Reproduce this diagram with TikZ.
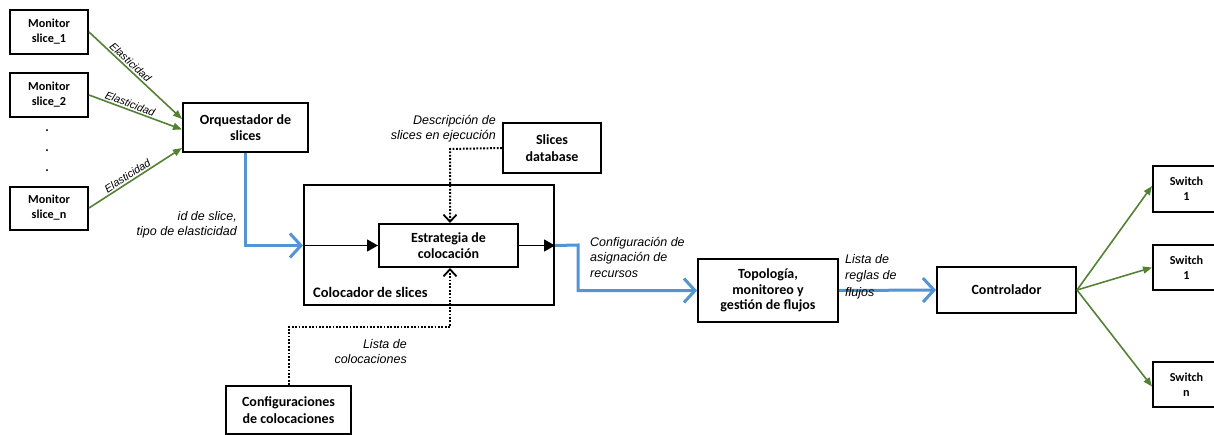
\documentclass[tikz,border=0pt]{standalone}
\usepackage{fontspec}
\setmainfont{Carlito}
\newfontfamily\labelfont{Liberation Sans}
\usetikzlibrary{arrows.meta}
\definecolor{flowblue}{RGB}{83,148,212}
\definecolor{linkgreen}{RGB}{84,130,53}
\tikzset{
  box/.style={draw=black, line width=2pt, align=center, font=\bfseries\fontsize{14}{16.5}\selectfont, inner sep=0pt},
  smallbox/.style={box, font=\bfseries\fontsize{12.2}{15}\selectfont},
  lbl/.style={font=\labelfont\itshape\fontsize{12.5}{15}\selectfont, inner sep=0pt},
  elab/.style={font=\labelfont\itshape\fontsize{10.8}{12}\selectfont, inner sep=1.5pt},
  greenarrow/.style={draw=linkgreen, line width=1.6pt, -{Triangle[length=9pt,width=7pt]}},
  bluearrow/.style={draw=flowblue, line width=3pt, -{Straight Barb[length=11pt,width=24pt,line width=3pt]}},
  blackarrow/.style={draw=black, line width=1.2pt, -{Triangle[length=11pt,width=12pt]}},
  dotarrow/.style={draw=black, line width=2pt, dash pattern=on 1.8pt off 1.6pt, -{Straight Barb[length=7pt,width=13pt,line width=1.8pt]}},
}
\begin{document}
\begin{tikzpicture}[x=1pt, y=-1pt]
\useasboundingbox (0,0) rectangle (1214,434);

% slice monitors
\node[smallbox, minimum width=78pt, minimum height=44pt] (m1) at (49,32) {Monitor\\slice\_1};
\node[smallbox, minimum width=78pt, minimum height=44pt] (m2) at (49,95) {Monitor\\slice\_2};
\node[smallbox, minimum width=78pt, minimum height=43pt] (mn) at (49,208) {Monitor\\slice\_n};
\node[font=\bfseries\fontsize{13}{14}\selectfont] (d1) at (47,131) {.};
\node[font=\bfseries\fontsize{13}{14}\selectfont] (d2) at (47,151) {.};
\node[font=\bfseries\fontsize{13}{14}\selectfont] (d3) at (47,171) {.};

% orchestrator
\node[box, minimum width=125pt, minimum height=49pt] (orq) at (245.5,127.5) {Orquestador de\\slices};

% placement block
\node[draw=black, line width=2pt, minimum width=250pt, minimum height=120pt, inner sep=0pt] (col) at (429,245) {};
\node[font=\bfseries\fontsize{14.5}{16}\selectfont, inner sep=0pt, anchor=west] (coltxt) at (313,292) {Colocador de slices};
\node[box, minimum width=139pt, minimum height=43pt] (est) at (448.5,245.5) {Estrategia de\\colocación};
\node[box, minimum width=98pt, minimum height=50pt] (db) at (552,148) {Slices\\database};
\node[box, minimum width=125pt, minimum height=48pt] (cfg) at (288.5,410) {Configuraciones\\de colocaciones};

% network side
\node[box, minimum width=140pt, minimum height=63pt, font=\bfseries\fontsize{14}{15.5}\selectfont] (top) at (768,290.5) {Topología,\\monitoreo y\\gestión de flujos};
\node[box, minimum width=139pt, minimum height=46pt] (ctl) at (1006.5,290) {Controlador};
\node[smallbox, minimum width=67pt, minimum height=46pt] (s1) at (1186.5,189) {Switch\\1};
\node[smallbox, minimum width=67pt, minimum height=45pt] (s2) at (1186.5,267.5) {Switch\\1};
\node[smallbox, minimum width=67pt, minimum height=45pt] (sn) at (1186.5,384.5) {Switch\\n};

% elasticity reports
\draw[greenarrow] (m1.east) -- node[elab, sloped, above, pos=0.4] {Elasticidad} ([yshift=-17pt]orq.north west);
\draw[greenarrow] (m2.east) -- node[elab, sloped, above, pos=0.42] {Elasticidad} ([yshift=-2pt]orq.west);
\draw[greenarrow] (mn.east) -- node[elab, sloped, above, pos=0.45] {Elasticidad} ([yshift=5pt]orq.south west);

% orchestrator to placement
\coordinate (colin) at (col.west |- est.west);
\draw[bluearrow] (orq.south) |- (colin);
\node[lbl, align=right, anchor=north east] (idl) at (237,211) {id de slice,\\tipo de elasticidad};
\draw[blackarrow] (colin) -- (est.west);
\coordinate (colout) at (col.east |- est.east);
\draw[blackarrow] (est.east) -- (colout);

% running slices description
\coordinate (dbturn) at (450,149);
\draw[dotarrow] (db.west) -- (dbturn) -- (dbturn |- est.north);
\node[lbl, align=right, anchor=north east] (descl) at (496,115) {Descripción de\\slices en ejecución};

% placement list
\coordinate (cfgturn) at (cfg.north |- 0,327);
\coordinate (cfgturn2) at (450,327);
\draw[dotarrow] (cfg.north) -- (cfgturn) -- (cfgturn2) -- (cfgturn2 |- est.south);
\node[lbl, align=right, anchor=north east] (listl) at (407,339) {Lista de\\colocaciones};

% resource configuration
\coordinate (colturn) at (578,245);
\draw[bluearrow] (colout) -- (colturn) |- (top.west);
\node[lbl, align=left, anchor=north west, font=\labelfont\itshape\fontsize{12.5}{15.5}\selectfont] (confl) at (590,237) {Configuración de\\asignación de\\recursos};

% flow rules
\draw[bluearrow] (top.east) -- (ctl.west);
\node[lbl, align=left, anchor=north west, font=\labelfont\itshape\fontsize{12.5}{16.5}\selectfont] (reglas) at (845,254) {Lista de\\reglas de\\flujos};

% controller to switches
\draw[greenarrow] (ctl.east) -- ([yshift=3pt]s1.west);
\draw[greenarrow] (ctl.east) -- (s2.west);
\draw[greenarrow] (ctl.east) -- ([yshift=-2pt]sn.west);
\end{tikzpicture}
\end{document}
